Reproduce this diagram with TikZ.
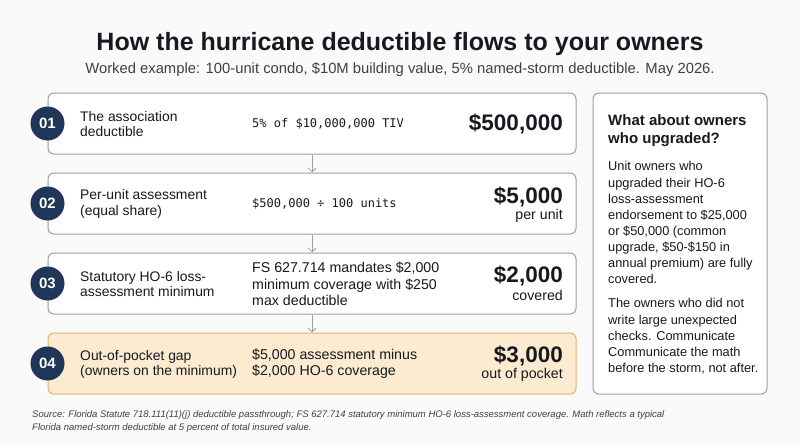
\documentclass[tikz,border=0pt]{standalone}
\usepackage{fontspec}
\setmainfont{Liberation Sans}
\setmonofont{DejaVu Sans Mono}
\usetikzlibrary{arrows.meta,positioning}
\definecolor{PageClr}{HTML}{FAFAFA}
\definecolor{NavyClr}{HTML}{1F3658}
\definecolor{LineClr}{HTML}{9B9FA7}
\definecolor{InkClr}{HTML}{16191F}
\definecolor{GapFill}{HTML}{FCEBD1}
\definecolor{GapLine}{HTML}{E0B46C}
\definecolor{NoteClr}{HTML}{3B4049}

\begin{document}
\begin{tikzpicture}[x=1pt,y=-1pt,
  stepbox/.style={draw=LineClr,line width=1pt,fill=white,rounded corners=6pt,
    minimum width=528pt,minimum height=61pt,inner sep=0pt},
  gapbox/.style={stepbox,draw=GapLine,fill=GapFill},
  num/.style={circle,fill=NavyClr,text=white,minimum size=34pt,inner sep=0pt,
    font=\bfseries\fontsize{15}{15}\selectfont},
  lbl/.style={anchor=west,align=left,text=InkClr,inner sep=0pt,
    font=\fontsize{13.9}{15.2}\selectfont},
  calc/.style={anchor=west,align=left,text=InkClr,inner sep=0pt,
    font=\ttfamily\fontsize{12}{15.5}\selectfont},
  how/.style={anchor=west,align=left,text=InkClr,inner sep=0pt,
    font=\fontsize{14.2}{16.2}\selectfont},
  big/.style={anchor=east,text=InkClr,inner sep=0pt,
    font=\bfseries\fontsize{22.5}{22.5}\selectfont},
  unit/.style={anchor=east,text=InkClr,inner sep=0pt,
    font=\fontsize{14.2}{14.2}\selectfont},
  flow/.style={draw=LineClr,line width=0.8pt,-{Straight Barb[length=4pt,width=8pt]}}]

\useasboundingbox[fill=PageClr] (0,0) rectangle (800,447);

\node[font=\bfseries\fontsize{25}{29}\selectfont,text=InkClr] (title) at (400,44)
  {How the hurricane deductible flows to your owners};
\node[font=\fontsize{14.8}{17}\selectfont,text=NoteClr] (subtitle) at (400,70)
  {Worked example: 100-unit condo, \$10M building value, 5\% named-storm deductible. May 2026.};

% steps
\node[stepbox] (b1) at (312,123.5) {};
\node[stepbox] (b2) at (312,203.5) {};
\node[stepbox] (b3) at (312,283.5) {};
\node[gapbox] (b4) at (312,363.5) {};

\draw[flow] (b1.south) -- (b2.north);
\draw[flow] (b2.south) -- (b3.north);
\draw[flow] (b3.south) -- (b4.north);

\node[num] (n1) at (b1.west) {01};
\node[num] (n2) at (b2.west) {02};
\node[num] (n3) at (b3.west) {03};
\node[num] (n4) at (b4.west) {04};

\node[lbl] (l1) at (80,124) {The association\\deductible};
\node[lbl] (l2) at (80,204) {Per-unit assessment\\(equal share)};
\node[lbl] (l3) at (80,284) {Statutory HO-6 loss-\\assessment minimum};
\node[lbl] (l4) at (80,364) {Out-of-pocket gap\\(owners on the minimum)};

\node[calc] (c1) at (252,124) {5\% of \$10,000,000 TIV};
\node[calc] (c2) at (252,204) {\$500,000 ÷ 100 units};
\node[how] (c3) at (252,284) {FS 627.714 mandates \$2,000\\minimum coverage with \$250\\max deductible};
\node[how] (c4) at (252,364) {\$5,000 assessment minus\\\$2,000 HO-6 coverage};

\node[big] (v1) at (563,124) {\$500,000};
\node[big] (v2) at (563,197) {\$5,000};
\node[unit] (u2) at (563,216) {per unit};
\node[big] (v3) at (563,276) {\$2,000};
\node[unit] (u3) at (563,295) {covered};
\node[big] (v4) at (563,356) {\$3,000};
\node[unit] (u4) at (563,375) {out of pocket};

% side note
\node[draw=LineClr,line width=1pt,fill=white,rounded corners=6pt,
  minimum width=174pt,minimum height=301pt] (side) at (680,243.5) {};
\node[anchor=north west,align=left,inner sep=0pt,text=InkClr,
  font=\bfseries\fontsize{15}{18}\selectfont] (sidehead) at (608,114.5)
  {What about owners\\who upgraded?};
\node[anchor=north west,align=left,inner sep=0pt,text=InkClr,
  font=\fontsize{12.8}{16.1}\selectfont] (sidebody1) at (608,161.5)
  {Unit owners who\\upgraded their HO-6\\loss-assessment\\endorsement to \$25,000\\or \$50,000 (common\\upgrade, \$50-\$150 in\\annual premium) are fully\\covered.};
\node[anchor=north west,align=left,inner sep=0pt,text=InkClr,
  font=\fontsize{12.8}{16.1}\selectfont] (sidebody2) at (608,298.5)
  {The owners who did not\\write large unexpected\\checks. Communicate\\Communicate the math\\before the storm, not after.};

% source
\node[anchor=north west,align=left,inner sep=0pt,text=NoteClr,
  font=\itshape\fontsize{9.5}{13}\selectfont] (source) at (32,410)
  {Source: Florida Statute 718.111(11)(j) deductible passthrough; FS 627.714 statutory minimum HO-6 loss-assessment coverage. Math reflects a typical\\Florida named-storm deductible at 5 percent of total insured value.};

\end{tikzpicture}
\end{document}
